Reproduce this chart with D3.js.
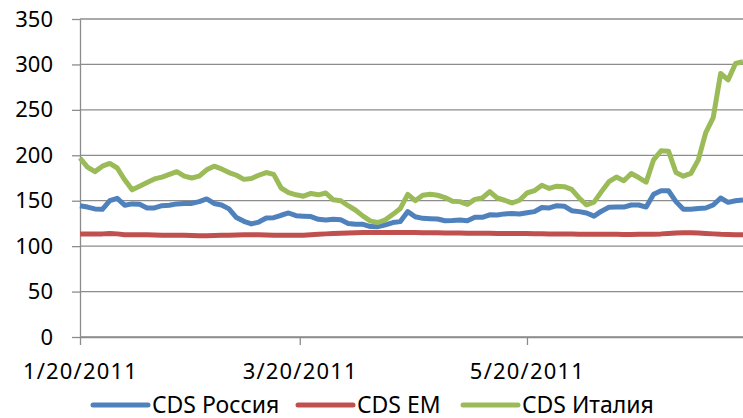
<!DOCTYPE html>
<html>
<head>
<meta charset="utf-8">
<script src="https://cdn.jsdelivr.net/npm/d3@7"></script>
<style>
  body { margin: 0; background: #fff; }
  text { font-family: "Noto Sans", sans-serif; fill: #000; }
</style>
</head>
<body>
<svg id="chart"></svg>
<script>
// dates, every 2nd day of 2011
var dates = ["1/20","1/22","1/24","1/26","1/28","1/30",
  "2/1","2/3","2/5","2/7","2/9","2/11","2/13","2/15","2/17","2/19","2/21","2/23","2/25","2/27",
  "3/1","3/3","3/5","3/7","3/9","3/11","3/13","3/15","3/17","3/19","3/21","3/23","3/25","3/27","3/29","3/31",
  "4/2","4/4","4/6","4/8","4/10","4/12","4/14","4/16","4/18","4/20","4/22","4/24","4/26","4/28","4/30",
  "5/2","5/4","5/6","5/8","5/10","5/12","5/14","5/16","5/18","5/20","5/22","5/24","5/26","5/28","5/30",
  "6/1","6/3","6/5","6/7","6/9","6/11","6/13","6/15","6/17","6/19","6/21","6/23","6/25","6/27","6/29",
  "7/1","7/3","7/5","7/7","7/9","7/11","7/13","7/15","7/17"];

var russia = [144.5,143,141,140.5,150,152.6,145,146.5,146,142,
  142,144.5,145,146.5,147,147,149,152,147,145.3,
  141,131.5,127.3,124.5,126.5,131,131.3,134,136.5,133.5,
  133,132.5,129.5,128.8,129.5,129,125,124,124,121.5,
  121.4,123.5,126,127,138,132.4,130.6,130.2,129.9,128,
  128.3,128.8,128,131.7,131.7,134.5,134.3,135.5,136,135.4,
  136.8,138,142.5,142,144.5,144,139,138,136.5,133,
  138.5,142.7,143,143,145.3,145.3,143,157,161,161,
  149,140.5,140.5,141.5,142,145.3,153,148.2,150,150.8];

var em = [113.5,113.5,113.5,113.5,114,113.5,112.5,112.5,112.5,112.5,
  112.3,112,112,112,112,111.8,111.5,111.5,111.8,112,
  112,112.3,112.5,112.5,112.5,112.3,112,112,112,112,
  112,112.5,113,113.5,114,114.3,114.5,114.8,115,115,
  115,115,115,115,115,115,114.8,114.8,114.7,114.6,
  114.5,114.5,114.3,114.3,114.2,114.1,114,114,114,113.8,
  113.8,113.7,113.6,113.5,113.5,113.5,113.3,113.2,113,113,
  113,113,113,112.8,112.8,113,113,113.2,113.5,114,
  114.5,114.8,114.8,114.5,114,113.5,113,112.8,112.5,112.5];

var italy = [197,187,182,188,191,186,173,162,166,170,
  174,176,179,182,177,175,177,184,188,185,
  181,178,173.5,174.5,178,181,179,164,159,156.5,
  155,158,156.5,158.5,151,150,144.5,139.5,133,127.5,
  126,129,135,141.5,157,150,156,157,156,153.5,
  149.5,149,146,151.5,153,160,153,150.5,147.5,150.5,
  158.5,161,167,163.5,166,165.5,162.5,153,145.5,148.5,
  160,171,176,172,180,175.5,170.5,195,205,204.5,
  181,177,180,195,225,241.5,290,283,301,303];

var seriesNames = ["CDS Россия", "CDS EM", "CDS Италия"];
var seriesColors = ["#4F81BD", "#C0504D", "#9BBB59"];
var yTicks = [0, 50, 100, 150, 200, 250, 300, 350];
var xTicks = ["1/20/2011", "3/20/2011", "5/20/2011"];

function cds_chart() {
    var width = 743, height = 418;
    var left = 80, right = 743, top = 19, bottom = 337;
    var parse = d3.timeParse("%m/%d/%Y");
    var days = dates.map(function (d) { return parse(d + "/2011"); });

    var svg = d3.select("#chart")
                .attr("width", width)
                .attr("height", height);

    var x = d3.scaleTime()
              .domain([parse("1/20/2011"), parse("7/17/2011")])
              .range([left, right]);
    var y = d3.scaleLinear()
              .domain([0, 350])
              .range([bottom, top]);

    // gridlines
    svg.selectAll(".grid")
        .data(yTicks)
        .enter()
        .append("line")
        .attr("x1", left).attr("x2", right)
        .attr("y1", function (d) { return y(d); })
        .attr("y2", function (d) { return y(d); })
        .attr("stroke", "#8c8c8c")
        .attr("stroke-width", 1.3);

    var yAxis = svg.append("g")
        .attr("transform", "translate(" + left + ",0)")
        .call(d3.axisLeft(y).tickValues(yTicks).tickSize(8).tickSizeOuter(0).tickPadding(19));
    yAxis.selectAll("text").style("font-size", "22px");

    var xAxis = svg.append("g")
        .attr("transform", "translate(0," + bottom + ")")
        .call(d3.axisBottom(x).tickValues(xTicks.map(parse)).tickSize(8).tickSizeOuter(0)
              .tickPadding(18).tickFormat(d3.timeFormat("%-m/%-d/%Y")));
    xAxis.selectAll("text")
        .style("font-size", "22px")
        .style("letter-spacing", "1.2px");

    svg.selectAll(".domain, .tick line")
        .attr("stroke", "#8c8c8c")
        .attr("stroke-width", 1.3);

    var line = d3.line()
        .x(function (d, i) { return x(days[i]); })
        .y(function (d) { return y(d); });

    var series = [russia, em, italy];
    // EM under, then Russia, Italy on top
    [1, 0, 2].forEach(function (k) {
        svg.append("path")
            .datum(series[k])
            .attr("fill", "none")
            .attr("stroke", seriesColors[k])
            .attr("stroke-width", 5)
            .attr("stroke-linejoin", "round")
            .attr("d", line);
    });

    // legend
    var legendX = [93, 298, 463];
    var legend = svg.selectAll(".legend")
        .data(seriesNames)
        .enter()
        .append("g")
        .attr("transform", function (d, i) { return "translate(" + legendX[i] + ",405)"; });
    legend.append("line")
        .attr("x1", 0).attr("x2", 55)
        .attr("stroke", function (d, i) { return seriesColors[i]; })
        .attr("stroke-width", 5)
        .attr("stroke-linecap", "round");
    legend.append("text")
        .attr("x", 59)
        .attr("y", 7.5)
        .style("font-size", "23px")
        .text(function (d) { return d; });
}

cds_chart();
</script>
</body>
</html>
